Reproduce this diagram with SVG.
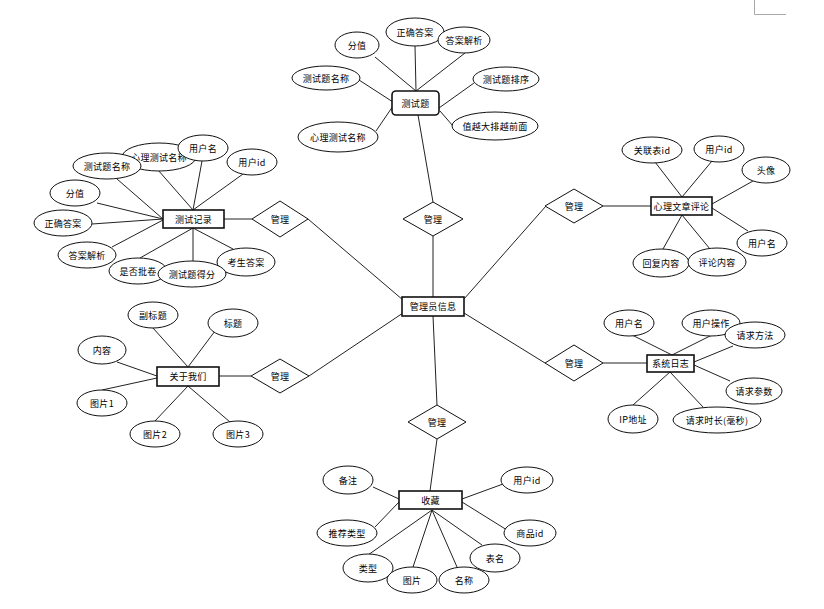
<svg xmlns="http://www.w3.org/2000/svg" width="824" height="609" viewBox="0 0 824 609">
<style>
.c line{stroke:#222;stroke-width:1}
.a ellipse{fill:#fff;stroke:#111;stroke-width:1}
.e rect{fill:#fff;stroke:#111;stroke-width:1.6}
.r polygon{fill:#fff;stroke:#111;stroke-width:1}
text{font-family:"Noto Sans CJK SC","Noto Sans",sans-serif;font-size:9px;letter-spacing:0.3px;fill:#000;text-anchor:middle;dominant-baseline:central}
</style>
<rect width="824" height="609" fill="#fff"/>
<path d="M754.5 0 V14.5 H786" fill="none" stroke="#aaa" stroke-width="1"/>
<g id="connectors" class="c">
<!-- 测试题 -->
<line x1="375" y1="57" x2="416" y2="91"/>
<line x1="415" y1="46" x2="416" y2="91"/>
<line x1="465" y1="53" x2="416" y2="91"/>
<line x1="359" y1="80" x2="393" y2="102"/>
<line x1="474" y1="83" x2="439" y2="108"/>
<line x1="376" y1="131" x2="393" y2="106"/>
<line x1="453" y1="126" x2="440" y2="111"/>
<line x1="418" y1="115" x2="433" y2="202"/>
<line x1="433" y1="236" x2="433" y2="297"/>
<!-- 测试记录 -->
<line x1="117" y1="179" x2="163" y2="219"/>
<line x1="158" y1="170" x2="193" y2="210"/>
<line x1="202" y1="161" x2="193" y2="210"/>
<line x1="243" y1="174" x2="193" y2="210"/>
<line x1="97" y1="203" x2="163" y2="219"/>
<line x1="92" y1="224" x2="163" y2="219"/>
<line x1="112" y1="247" x2="163" y2="220"/>
<line x1="140" y1="258" x2="193" y2="228"/>
<line x1="193" y1="261" x2="193" y2="228"/>
<line x1="233" y1="249" x2="193" y2="228"/>
<line x1="224" y1="219" x2="252" y2="219"/>
<line x1="308" y1="219" x2="403" y2="300"/>
<!-- 心理文章评论 -->
<line x1="655" y1="162" x2="682" y2="197"/>
<line x1="712" y1="161" x2="682" y2="197"/>
<line x1="753" y1="181" x2="712" y2="204"/>
<line x1="748" y1="231" x2="712" y2="208"/>
<line x1="663" y1="249" x2="682" y2="215"/>
<line x1="710" y1="249" x2="682" y2="215"/>
<line x1="603" y1="206" x2="651" y2="206"/>
<line x1="546" y1="206" x2="464" y2="299"/>
<!-- 关于我们 -->
<line x1="153" y1="328" x2="188" y2="367"/>
<line x1="215" y1="331" x2="188" y2="367"/>
<line x1="117" y1="362" x2="157" y2="376"/>
<line x1="102" y1="390" x2="157" y2="378"/>
<line x1="155" y1="421" x2="188" y2="386"/>
<line x1="230" y1="422" x2="188" y2="386"/>
<line x1="219" y1="376" x2="251" y2="376"/>
<line x1="309" y1="376" x2="403" y2="313"/>
<!-- 系统日志 -->
<line x1="632" y1="335" x2="672" y2="355"/>
<line x1="712" y1="335" x2="672" y2="355"/>
<line x1="733" y1="346" x2="694" y2="362"/>
<line x1="730" y1="381" x2="694" y2="365"/>
<line x1="633" y1="405" x2="670" y2="372"/>
<line x1="703" y1="407" x2="670" y2="372"/>
<line x1="603" y1="363" x2="647" y2="363"/>
<line x1="545" y1="363" x2="464" y2="313"/>
<!-- 收藏 -->
<line x1="433" y1="316" x2="437" y2="405"/>
<line x1="437" y1="439" x2="430" y2="491"/>
<line x1="373" y1="487" x2="399" y2="499"/>
<line x1="503" y1="484" x2="462" y2="499"/>
<line x1="375" y1="527" x2="399" y2="502"/>
<line x1="507" y1="530" x2="462" y2="502"/>
<line x1="482" y1="545" x2="432" y2="510"/>
<line x1="368" y1="555" x2="432" y2="510"/>
<line x1="413" y1="567" x2="432" y2="510"/>
<line x1="457" y1="567" x2="432" y2="510"/>
</g>
<!-- 测试题 -->
<g id="q_score" class="a"><ellipse cx="357" cy="45" rx="22" ry="13"/><text x="357" y="45">分值</text></g>
<g id="q_answer" class="a"><ellipse cx="415" cy="32" rx="29" ry="14"/><text x="415" y="32">正确答案</text></g>
<g id="q_analysis" class="a"><ellipse cx="464" cy="40" rx="26" ry="13"/><text x="464" y="40">答案解析</text></g>
<g id="q_name" class="a"><ellipse cx="326" cy="78" rx="34" ry="12"/><text x="326" y="78">测试题名称</text></g>
<g id="q_sort" class="a"><ellipse cx="506" cy="79" rx="33" ry="12"/><text x="506" y="79">测试题排序</text></g>
<g id="q_test" class="a"><ellipse cx="338" cy="137" rx="40" ry="15"/><text x="338" y="137">心理测试名称</text></g>
<g id="q_note" class="a"><ellipse cx="495" cy="126" rx="43" ry="14"/><text x="495" y="126">值越大排越前面</text></g>
<g id="question" class="e"><rect x="392" y="91" width="47" height="24" rx="4"/><text x="415.5" y="103">测试题</text></g>
<g id="r_question" class="r"><polygon points="433,202 463,219 433,236 403,219"/><text x="433" y="219">管理</text></g>
<!-- 测试记录 -->
<g id="t_test" class="a"><ellipse cx="159" cy="157" rx="37" ry="14"/><text x="159" y="157">心理测试名称</text></g>
<g id="t_name" class="a"><ellipse cx="107" cy="166" rx="34" ry="13"/><text x="107" y="166">测试题名称</text></g>
<g id="t_user" class="a"><ellipse cx="203" cy="148" rx="25" ry="13"/><text x="203" y="148">用户名</text></g>
<g id="t_uid" class="a"><ellipse cx="252" cy="162" rx="25" ry="13"/><text x="252" y="162">用户id</text></g>
<g id="t_score" class="a"><ellipse cx="75" cy="193" rx="25" ry="13"/><text x="75" y="193">分值</text></g>
<g id="t_answer" class="a"><ellipse cx="63" cy="223" rx="29" ry="13"/><text x="63" y="223">正确答案</text></g>
<g id="t_analysis" class="a"><ellipse cx="87" cy="255" rx="29" ry="13"/><text x="87" y="255">答案解析</text></g>
<g id="t_marked" class="a"><ellipse cx="138" cy="271" rx="29" ry="13"/><text x="138" y="271">是否批卷</text></g>
<g id="t_exam" class="a"><ellipse cx="246" cy="262" rx="29" ry="14"/><text x="246" y="262">考生答案</text></g>
<g id="t_got" class="a"><ellipse cx="192" cy="274" rx="34" ry="13"/><text x="192" y="274">测试题得分</text></g>
<g id="testrecord" class="e"><rect x="163" y="210" width="61" height="18"/><text x="193.5" y="219">测试记录</text></g>
<g id="r_testrecord" class="r"><polygon points="280,201 308,219 280,237 252,219"/><text x="280" y="219">管理</text></g>
<!-- 心理文章评论 -->
<g id="c_ref" class="a"><ellipse cx="652" cy="150" rx="30" ry="13"/><text x="652" y="150">关联表id</text></g>
<g id="c_uid" class="a"><ellipse cx="719" cy="149" rx="25" ry="13"/><text x="719" y="149">用户id</text></g>
<g id="c_avatar" class="a"><ellipse cx="766" cy="170" rx="24" ry="13"/><text x="766" y="170">头像</text></g>
<g id="c_user" class="a"><ellipse cx="762" cy="243" rx="25" ry="13"/><text x="762" y="243">用户名</text></g>
<g id="c_reply" class="a"><ellipse cx="661" cy="263" rx="28" ry="14"/><text x="661" y="263">回复内容</text></g>
<g id="c_content" class="a"><ellipse cx="717" cy="262" rx="29" ry="14"/><text x="717" y="262">评论内容</text></g>
<g id="comment" class="e"><rect x="651" y="197" width="61" height="18"/><text x="681.5" y="206">心理文章评论</text></g>
<g id="r_comment" class="r"><polygon points="574,189 603,206 574,223 545,206"/><text x="574" y="206">管理</text></g>
<!-- 管理员信息 -->
<g id="admin" class="e"><rect x="402" y="297" width="62" height="19"/><text x="433" y="306.5">管理员信息</text></g>
<!-- 关于我们 -->
<g id="a_sub" class="a"><ellipse cx="153" cy="315" rx="25" ry="13"/><text x="153" y="315">副标题</text></g>
<g id="a_title" class="a"><ellipse cx="233" cy="323" rx="25" ry="14"/><text x="233" y="323">标题</text></g>
<g id="a_content" class="a"><ellipse cx="102" cy="350" rx="24" ry="14"/><text x="102" y="350">内容</text></g>
<g id="a_pic1" class="a"><ellipse cx="102" cy="403" rx="25" ry="13"/><text x="102" y="403">图片1</text></g>
<g id="a_pic2" class="a"><ellipse cx="155" cy="434" rx="25" ry="13"/><text x="155" y="434">图片2</text></g>
<g id="a_pic3" class="a"><ellipse cx="238" cy="434" rx="25" ry="13"/><text x="238" y="434">图片3</text></g>
<g id="about" class="e"><rect x="157" y="367" width="62" height="19"/><text x="188" y="376.5">关于我们</text></g>
<g id="r_about" class="r"><polygon points="280,359 309,376 280,393 251,376"/><text x="280" y="376">管理</text></g>
<!-- 系统日志 -->
<g id="l_user" class="a"><ellipse cx="629" cy="323" rx="25" ry="13"/><text x="629" y="323">用户名</text></g>
<g id="l_op" class="a"><ellipse cx="711" cy="323" rx="29" ry="13"/><text x="711" y="323">用户操作</text></g>
<g id="l_method" class="a"><ellipse cx="755" cy="335" rx="30" ry="13"/><text x="755" y="335">请求方法</text></g>
<g id="l_params" class="a"><ellipse cx="754" cy="391" rx="28" ry="13"/><text x="754" y="391">请求参数</text></g>
<g id="l_ip" class="a"><ellipse cx="633" cy="419" rx="25" ry="14"/><text x="633" y="419">IP地址</text></g>
<g id="l_time" class="a"><ellipse cx="717" cy="420" rx="44" ry="13"/><text x="717" y="420">请求时长(毫秒)</text></g>
<g id="syslog" class="e"><rect x="647" y="355" width="47" height="17"/><text x="670.5" y="363.5">系统日志</text></g>
<g id="r_syslog" class="r"><polygon points="574,345 603,363 574,381 545,363"/><text x="574" y="363">管理</text></g>
<!-- 收藏 -->
<g id="r_fav" class="r"><polygon points="437,405 466,422 437,439 408,422"/><text x="437" y="422">管理</text></g>
<g id="f_note" class="a"><ellipse cx="348" cy="480" rx="25" ry="14"/><text x="348" y="480">备注</text></g>
<g id="f_uid" class="a"><ellipse cx="527" cy="480" rx="26" ry="13"/><text x="527" y="480">用户id</text></g>
<g id="f_rtype" class="a"><ellipse cx="347" cy="533" rx="30" ry="13"/><text x="347" y="533">推荐类型</text></g>
<g id="f_gid" class="a"><ellipse cx="530" cy="533" rx="26" ry="13"/><text x="530" y="533">商品id</text></g>
<g id="f_table" class="a"><ellipse cx="495" cy="558" rx="25" ry="14"/><text x="495" y="558">表名</text></g>
<g id="f_type" class="a"><ellipse cx="368" cy="568" rx="25" ry="14"/><text x="368" y="568">类型</text></g>
<g id="f_pic" class="a"><ellipse cx="412" cy="580" rx="25" ry="13"/><text x="412" y="580">图片</text></g>
<g id="f_name" class="a"><ellipse cx="464" cy="580" rx="25" ry="13"/><text x="464" y="580">名称</text></g>
<g id="favorite" class="e"><rect x="399" y="491" width="63" height="18"/><text x="430.5" y="500">收藏</text></g>
</svg>
